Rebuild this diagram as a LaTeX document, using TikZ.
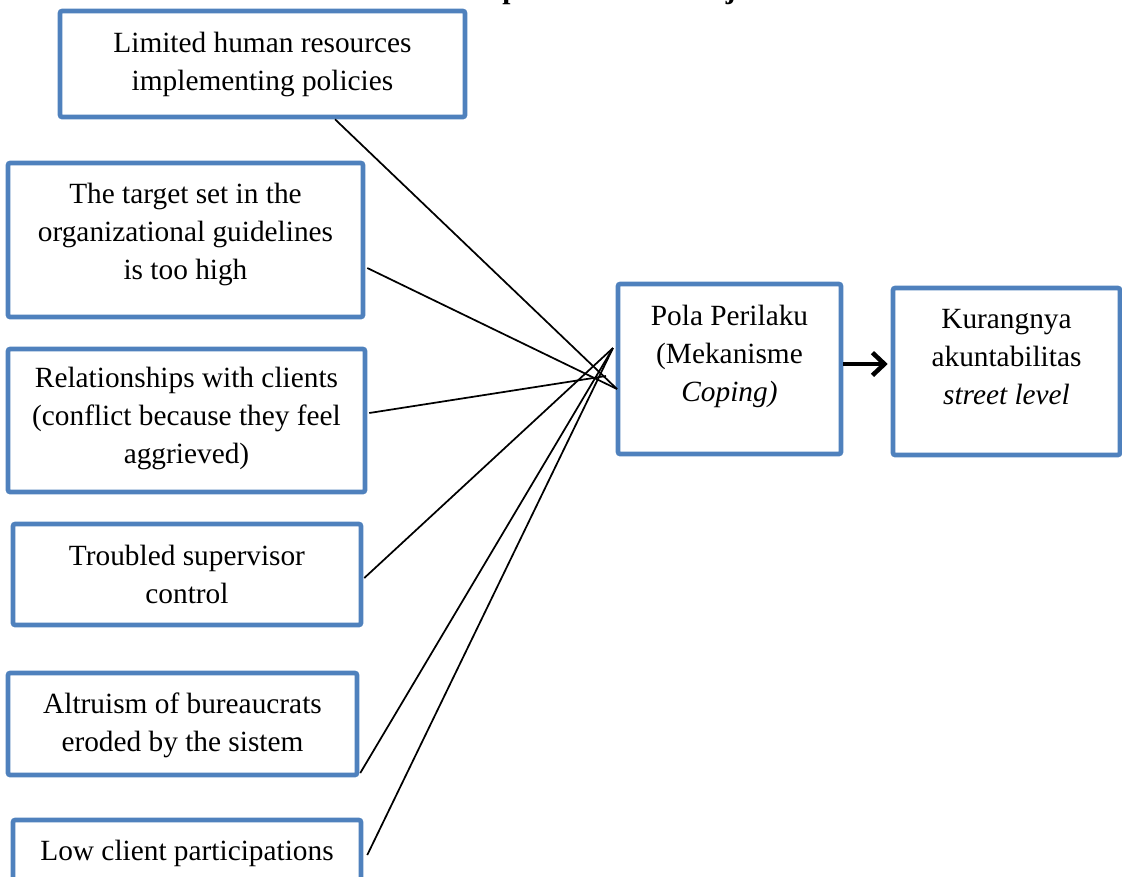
\documentclass[tikz,border=0pt]{standalone}
\usepackage{fontspec}
\setmainfont{Liberation Serif}
\usetikzlibrary{fit,calc,arrows.meta}
\definecolor{boxblue}{RGB}{79,129,189}
\tikzset{
  boxn/.style={draw=boxblue, line width=3.4pt, rounded corners=1.5pt, inner sep=0pt, fill=white},
  txt/.style={anchor=north, align=center, inner sep=0pt, font=\fontsize{22}{28.5}\selectfont},
  conn/.style={draw=black, line width=1.3pt},
  arr/.style={draw=black, line width=3.4pt, -{Straight Barb[length=9pt,width=17pt]}},
  ttl/.style={inner sep=0pt, font=\fontsize{22}{28.5}\selectfont\bfseries}
}
\begin{document}
\begin{tikzpicture}[x=0.75pt, y=-0.75pt]
\useasboundingbox (0,0) rectangle (1122,876);
\clip (0,0) rectangle (1122,876);
% clipped title descenders
\node[ttl, anchor=base west] (tp) at (502,-1.5) {p};
\node[ttl, anchor=base east] (tj) at (736,-1.5) {j};
% boxes
\node[boxn, fit={(60,11) (465,117)}] (b1) {};
\node[boxn, fit={(8,163) (363,317)}] (b2) {};
\node[boxn, fit={(8,349) (365,492)}] (b3) {};
\node[boxn, fit={(13,524) (361,625)}] (b4) {};
\node[boxn, fit={(8,673) (357,775)}] (b5) {};
\node[boxn, fit={(13,820) (361,900)}] (b6) {};
\node[boxn, fit={(618,284) (841,454)}] (pola) {};
\node[boxn, fit={(893,288) (1120,455)}] (kur) {};
% texts
\node[txt] (t1) at ($(b1.north)+(0,23)$) {Limited human resources\\implementing policies};
\node[txt] (t2) at ($(b2.north)+(0,22)$) {The target set in the\\organizational guidelines\\is too high};
\node[txt] (t3) at ($(b3.north)+(0,20)$) {Relationships with clients\\(conflict because they feel\\aggrieved)};
\node[txt] (t4) at ($(b4.north)+(0,23)$) {Troubled supervisor\\control};
\node[txt] (t5) at ($(b5.north)+(0,22)$) {Altruism of bureaucrats\\eroded by the sistem};
\node[txt] (t6) at ($(b6.north)+(0,22)$) {Low client participations};
\node[txt] (t7) at ($(pola.north)+(0,23)$) {Pola Perilaku\\(Mekanisme\\\textit{Coping)}};
\node[txt] (t8) at ($(kur.north)+(0,23)$) {Kurangnya\\akuntabilitas\\\textit{street level}};
% convergence points
\coordinate (p1) at (617,389);
\coordinate (p2) at (613,348);
\coordinate (p3) at (606,376);
% connectors
\draw[conn] ($(b1.south)+(72.5,0)$) -- (p1);
\draw[conn] ($(b2.east)+(2,28)$) -- (p1);
\draw[conn] ($(b3.east)+(2,-7.5)$) -- (p3);
\draw[conn] ($(b4.east)+(1,3.5)$) -- (p2);
\draw[conn] ($(b5.east)+(1,49)$) -- (p2);
\draw[conn] ($(b6.east)+(4,-5)$) -- (p2);
% arrow
\draw[arr] ($(pola.east)+(0,-5)$) -- ($(kur.west)+(-3,-7.5)$);
\end{tikzpicture}
\end{document}
